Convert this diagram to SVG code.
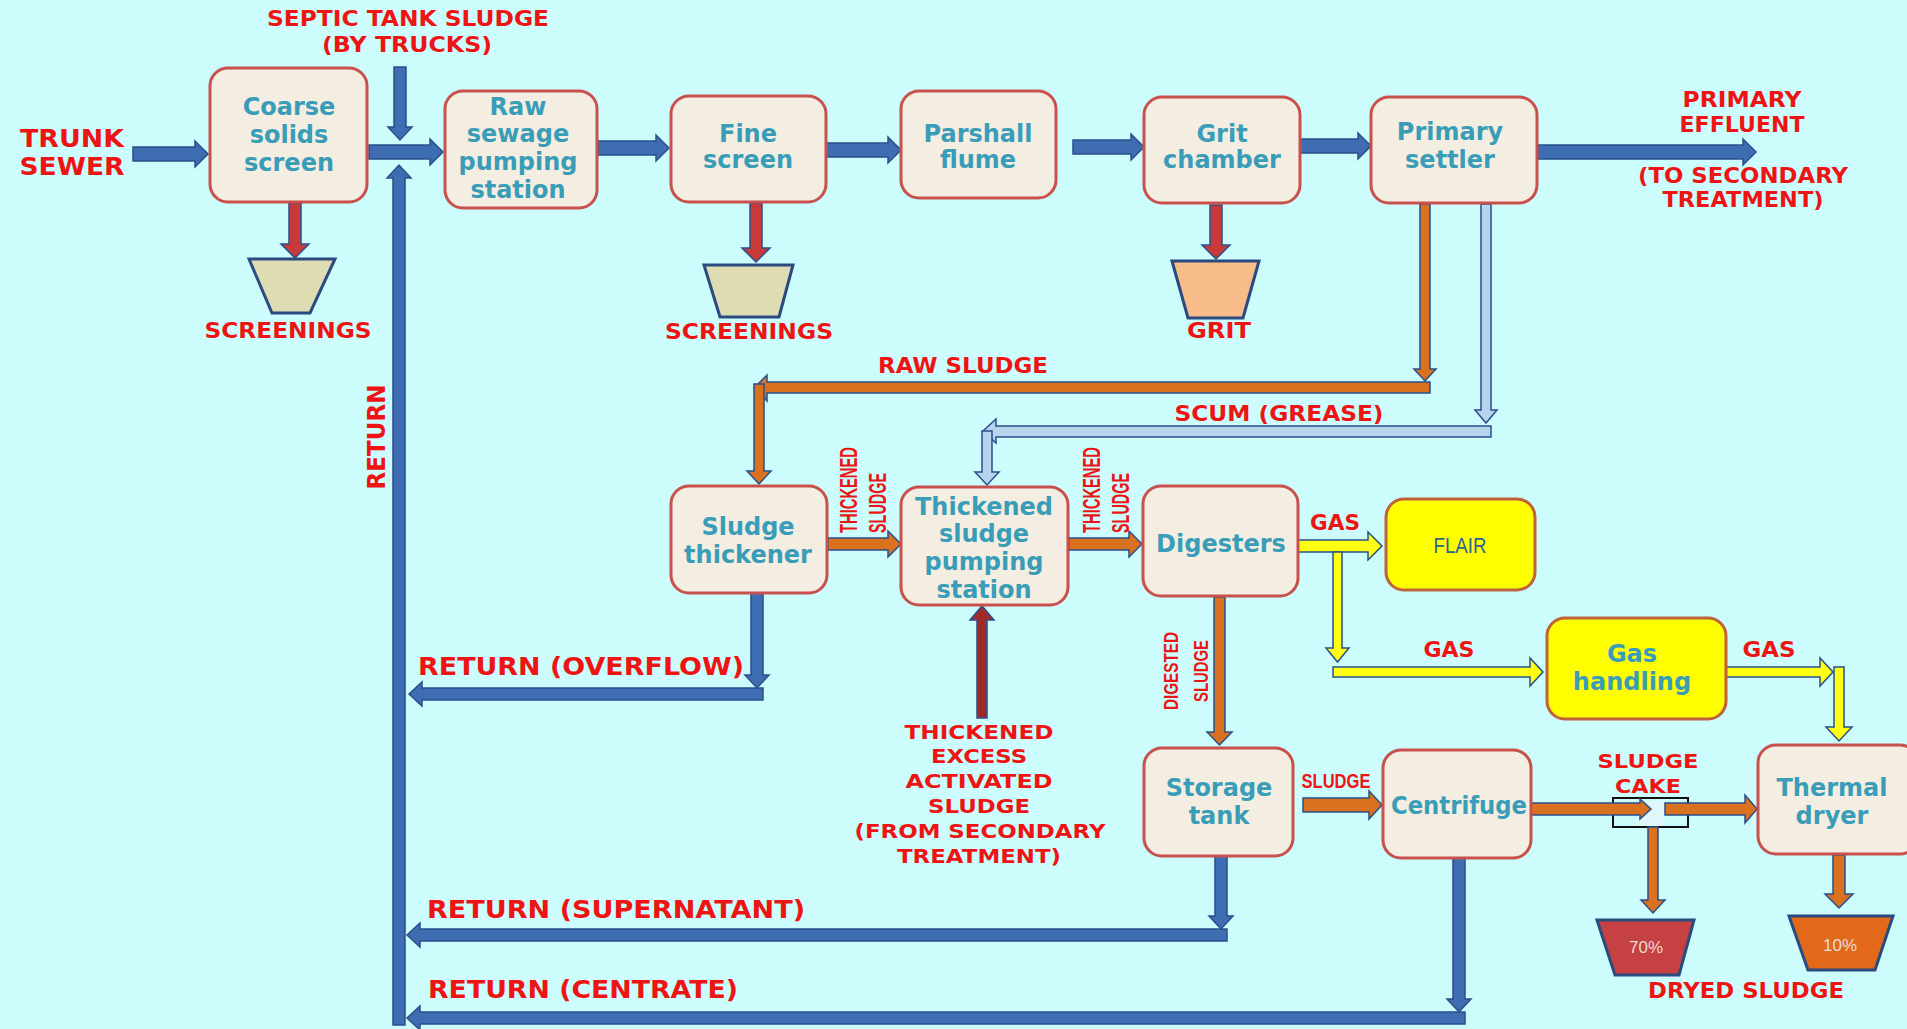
<svg xmlns="http://www.w3.org/2000/svg" width="1907" height="1029" viewBox="0 0 1907 1029">
<style>
.bg{fill:#ccfcfc}
.node rect{fill:#f3ede2;stroke:#c9514d;stroke-width:3}
.node.yel rect{fill:#ffff00;stroke:#c0623a}
.nt{font-family:"DejaVu Sans",Verdana,sans-serif;font-weight:bold;font-size:24px;fill:#3a9db8;text-anchor:middle}
.lbl{font-family:"DejaVu Sans",Verdana,sans-serif;font-weight:bold;fill:#ee1414;text-anchor:middle}
.lbl.st{text-anchor:start}
.cnd{font-family:"Liberation Sans",Arial,sans-serif;font-weight:bold;fill:#ee1414}
.cnd.mid{text-anchor:middle}
.b{fill:#3f6db2;stroke:#2a4f8c;stroke-width:1.5}
.r{fill:#c83a3a;stroke:#2a4f8c;stroke-width:1.5}
.dr{fill:#a02a2a;stroke:#2a4f8c;stroke-width:1.5}
.o{fill:#d9711e;stroke:#2a4f8c;stroke-width:1.5}
.s{fill:#b8d3ec;stroke:#2a4f8c;stroke-width:1.5}
.y{fill:#ffff14;stroke:#2a4f8c;stroke-width:1.5}
.bin{stroke:#2b4a7f;stroke-width:3}
.pct{font-family:"Liberation Sans",Arial,sans-serif;font-size:17px;fill:#eadcd4;text-anchor:middle}
</style>
<rect class="bg" x="0" y="0" width="1907" height="1029"/>

<g id="connectors">
  <path class="b" d="M133,147 H195 V141 L208,154 L195,167 V161 H133 Z"/>
  <path class="b" d="M369,145 H430 V139 L443,152 L430,165 V159 H369 Z"/>
  <path class="b" d="M394,67 H406 V127 H412 L400,140 L388,127 H394 Z"/>
  <path class="b" d="M393,1025 V178 H387 L399,165 L411,178 H405 V1025 Z"/>
  <path class="b" d="M598,141 H656 V135 L669,148 L656,161 V155 H598 Z"/>
  <path class="b" d="M826,143 H888 V137 L901,150 L888,163 V157 H826 Z"/>
  <path class="b" d="M1073,140 H1131 V134 L1144,147 L1131,160 V154 H1073 Z"/>
  <path class="b" d="M1300,139 H1358 V133 L1371,146 L1358,159 V153 H1300 Z"/>
  <path class="b" d="M1538,145 H1743 V139 L1756,152 L1743,165 V159 H1538 Z"/>
  <path class="b" d="M751,593 H763 V675 H769 L757,688 L745,675 H751 Z"/>
  <path class="b" d="M763,688 H422 V682 L409,694 L422,706 V700 H763 Z"/>
  <path class="b" d="M1215,856 H1227 V916 H1233 L1221,929 L1209,916 H1215 Z"/>
  <path class="b" d="M1227,929 H420 V923 L407,935 L420,947 V941 H1227 Z"/>
  <path class="b" d="M1453,858 H1465 V999 H1471 L1459,1012 L1447,999 H1453 Z"/>
  <path class="b" d="M1465,1012 H420 V1006 L407,1018 L420,1030 V1024 H1465 Z"/>
  <path class="r" d="M289,203 H301 V244 H309 L295,258 L281,244 H289 Z"/>
  <path class="r" d="M750,203 H762 V248 H770 L756,262 L742,248 H750 Z"/>
  <path class="r" d="M1210,205 H1222 V245 H1230 L1216,259 L1202,245 H1210 Z"/>
  <path class="o" d="M1420,204 H1430 V369 H1436 L1425,381 L1414,369 H1420 Z"/>
  <path class="o" d="M1430,382 H767 V375 L754,388 L767,401 V393 H1430 Z"/>
  <path class="o" d="M754,384 H764 V471 H771 L759,484 L747,471 H754 Z"/>
  <path class="s" d="M1481,204 H1491 V410 H1497 L1486,423 L1475,410 H1481 Z"/>
  <path class="s" d="M1491,426 H996 V419 L983,431 L996,443 V437 H1491 Z"/>
  <path class="s" d="M982,431 H992 V472 H999 L987,485 L975,472 H982 Z"/>
  <path class="o" d="M828,538 H888 V531 L901,544 L888,557 V550 H828 Z"/>
  <path class="o" d="M1069,538 H1129 V531 L1142,544 L1129,557 V550 H1069 Z"/>
  <path class="dr" d="M977,718 V620 H970 L982,606 L994,620 H987 V718 Z"/>
  <path class="o" d="M1214,597 H1225 V732 H1232 L1219.5,745 L1207,732 H1214 Z"/>
  <path class="y" d="M1297,540 H1368 V532 L1382,546 L1368,560 V552 H1297 Z"/>
  <path class="y" d="M1333,552 H1342 V648 H1349 L1337.5,662 L1326,648 H1333 Z"/>
  <path class="y" d="M1333,667 H1530 V658 L1543,672 L1530,686 V677 H1333 Z"/>
  <path class="y" d="M1726,667 H1820 V658 L1833,672 L1820,686 V677 H1726 Z"/>
  <path class="y" d="M1834,667 H1844 V727 H1852 L1839,741 L1826,727 H1834 Z"/>
  <path class="o" d="M1303,798 H1369 V791 L1382,805 L1369,819 V812 H1303 Z"/>
  <rect x="1613" y="798" width="75" height="29" fill="none" stroke="#111" stroke-width="2"/>
  <rect x="1637" y="801" width="27" height="25" fill="#dff6fa"/>
  <path class="o" d="M1531,803 H1640 V799 L1651,809 L1640,819 V815 H1531 Z"/>
  <path class="o" d="M1665,803 H1745 V795 L1757,809 L1745,823 V815 H1665 Z"/>
  <path class="o" d="M1648,827 H1658 V900 H1665 L1653,913 L1641,900 H1648 Z"/>
  <path class="o" d="M1833,855 H1845 V894 H1853 L1839,908 L1825,894 H1833 Z"/>
</g>

<g id="node-coarse" class="node"><rect x="210" y="68" width="157" height="134" rx="18"/>
  <text class="nt" x="289" y="115">Coarse</text><text class="nt" x="289" y="143">solids</text><text class="nt" x="289" y="171">screen</text></g>
<g id="node-raw-pumping" class="node"><rect x="445" y="91" width="152" height="117" rx="18"/>
  <text class="nt" x="518" y="115">Raw</text><text class="nt" x="518" y="142">sewage</text><text class="nt" x="518" y="170">pumping</text><text class="nt" x="518" y="198">station</text></g>
<g id="node-fine-screen" class="node"><rect x="671" y="96" width="155" height="106" rx="18"/>
  <text class="nt" x="748" y="142">Fine</text><text class="nt" x="748" y="168">screen</text></g>
<g id="node-parshall" class="node"><rect x="901" y="91" width="155" height="107" rx="18"/>
  <text class="nt" x="978" y="142">Parshall</text><text class="nt" x="978" y="168">flume</text></g>
<g id="node-grit" class="node"><rect x="1144" y="97" width="156" height="106" rx="18"/>
  <text class="nt" x="1222" y="142">Grit</text><text class="nt" x="1222" y="168">chamber</text></g>
<g id="node-primary" class="node"><rect x="1371" y="97" width="166" height="106" rx="18"/>
  <text class="nt" x="1450" y="140">Primary</text><text class="nt" x="1450" y="168">settler</text></g>
<g id="node-thickener" class="node"><rect x="671" y="486" width="156" height="107" rx="18"/>
  <text class="nt" x="748" y="535">Sludge</text><text class="nt" x="748" y="563">thickener</text></g>
<g id="node-tsps" class="node"><rect x="901" y="487" width="167" height="118" rx="18"/>
  <text class="nt" x="984" y="515">Thickened</text><text class="nt" x="984" y="542">sludge</text><text class="nt" x="984" y="570">pumping</text><text class="nt" x="984" y="598">station</text></g>
<g id="node-digesters" class="node"><rect x="1143" y="486" width="155" height="110" rx="18"/>
  <text class="nt" x="1221" y="552">Digesters</text></g>
<g id="node-flair" class="node yel"><rect x="1386" y="499" width="149" height="91" rx="18"/>
  <text x="1460" y="553" text-anchor="middle" font-family="'Liberation Sans',Arial,sans-serif" font-size="22" fill="#2a6590" textLength="53" lengthAdjust="spacingAndGlyphs">FLAIR</text></g>
<g id="node-gas-handling" class="node yel"><rect x="1547" y="618" width="179" height="101" rx="18"/>
  <text class="nt" x="1632" y="662">Gas</text><text class="nt" x="1632" y="690">handling</text></g>
<g id="node-storage" class="node"><rect x="1144" y="748" width="149" height="108" rx="18"/>
  <text class="nt" x="1219" y="796">Storage</text><text class="nt" x="1219" y="824">tank</text></g>
<g id="node-centrifuge" class="node"><rect x="1383" y="750" width="148" height="108" rx="18"/>
  <text class="nt" x="1459" y="814" textLength="136" lengthAdjust="spacingAndGlyphs">Centrifuge</text></g>
<g id="node-dryer" class="node"><rect x="1758" y="745" width="160" height="109" rx="18"/>
  <text class="nt" x="1832" y="796">Thermal</text><text class="nt" x="1832" y="824">dryer</text></g>

<g id="bin-screenings-1"><polygon class="bin" fill="#dedcb2" points="249,259 335,259 310,313 272,313"/></g>
<g id="bin-screenings-2"><polygon class="bin" fill="#dedcb2" points="704,265 793,265 779,317 720,317"/></g>
<g id="bin-grit"><polygon class="bin" fill="#f8bb8a" points="1172,261 1259,261 1243,318 1188,318"/></g>
<g id="bin-70"><polygon class="bin" fill="#c64242" points="1597,920 1694,920 1679,975 1615,975"/><text class="pct" x="1646" y="953">70%</text></g>
<g id="bin-10"><polygon class="bin" fill="#e2691a" points="1789,916 1893,916 1875,970 1808,970"/><text class="pct" x="1840" y="951">10%</text></g>

<g id="labels">
  <text class="lbl" font-size="22" x="408" y="26" textLength="282" lengthAdjust="spacingAndGlyphs">SEPTIC TANK SLUDGE</text>
  <text class="lbl" font-size="22" x="407" y="52" textLength="170" lengthAdjust="spacingAndGlyphs">(BY TRUCKS)</text>
  <text class="lbl" font-size="25" x="72" y="147" textLength="104" lengthAdjust="spacingAndGlyphs">TRUNK</text>
  <text class="lbl" font-size="25" x="72" y="175" textLength="105" lengthAdjust="spacingAndGlyphs">SEWER</text>
  <text class="lbl" font-size="21" x="288" y="338" textLength="167" lengthAdjust="spacingAndGlyphs">SCREENINGS</text>
  <text class="lbl" font-size="21" x="749" y="339" textLength="168" lengthAdjust="spacingAndGlyphs">SCREENINGS</text>
  <text class="lbl" font-size="21" x="1219" y="338" textLength="64" lengthAdjust="spacingAndGlyphs">GRIT</text>
  <text class="lbl" font-size="21" x="1742" y="107" textLength="119" lengthAdjust="spacingAndGlyphs">PRIMARY</text>
  <text class="lbl" font-size="21" x="1742" y="132" textLength="125" lengthAdjust="spacingAndGlyphs">EFFLUENT</text>
  <text class="lbl" font-size="21" x="1743" y="183" textLength="210" lengthAdjust="spacingAndGlyphs">(TO SECONDARY</text>
  <text class="lbl" font-size="21" x="1743" y="207" textLength="161" lengthAdjust="spacingAndGlyphs">TREATMENT)</text>
  <text class="lbl" font-size="21" x="963" y="373" textLength="170" lengthAdjust="spacingAndGlyphs">RAW SLUDGE</text>
  <text class="lbl" font-size="21" x="1279" y="421" textLength="209" lengthAdjust="spacingAndGlyphs">SCUM (GREASE)</text>
  <text class="lbl" font-size="24" transform="translate(385,437) rotate(-90)" textLength="105" lengthAdjust="spacingAndGlyphs">RETURN</text>
  <text class="cnd" font-size="23" transform="translate(857,533) rotate(-90)" textLength="86" lengthAdjust="spacingAndGlyphs">THICKENED</text>
  <text class="cnd" font-size="23" transform="translate(886,533) rotate(-90)" textLength="60" lengthAdjust="spacingAndGlyphs">SLUDGE</text>
  <text class="cnd" font-size="23" transform="translate(1100,533) rotate(-90)" textLength="86" lengthAdjust="spacingAndGlyphs">THICKENED</text>
  <text class="cnd" font-size="23" transform="translate(1129,533) rotate(-90)" textLength="60" lengthAdjust="spacingAndGlyphs">SLUDGE</text>
  <text class="cnd mid" font-size="21" transform="translate(1178,671) rotate(-90)" textLength="78" lengthAdjust="spacingAndGlyphs">DIGESTED</text>
  <text class="cnd mid" font-size="21" transform="translate(1208,671) rotate(-90)" textLength="62" lengthAdjust="spacingAndGlyphs">SLUDGE</text>
  <text class="lbl" font-size="21" x="1335" y="530" textLength="50" lengthAdjust="spacingAndGlyphs">GAS</text>
  <text class="lbl" font-size="21" x="1449" y="657" textLength="51" lengthAdjust="spacingAndGlyphs">GAS</text>
  <text class="lbl" font-size="21" x="1769" y="657" textLength="53" lengthAdjust="spacingAndGlyphs">GAS</text>
  <text class="cnd mid" font-size="20" x="1336" y="788" textLength="69" lengthAdjust="spacingAndGlyphs">SLUDGE</text>
  <text class="lbl" font-size="20" x="1648" y="768" textLength="101" lengthAdjust="spacingAndGlyphs">SLUDGE</text>
  <text class="lbl" font-size="20" x="1648" y="793" textLength="66" lengthAdjust="spacingAndGlyphs">CAKE</text>
  <text class="lbl" font-size="21" x="1746" y="998" textLength="196" lengthAdjust="spacingAndGlyphs">DRYED SLUDGE</text>
  <text class="lbl st" font-size="24" x="418" y="675" textLength="326" lengthAdjust="spacingAndGlyphs">RETURN (OVERFLOW)</text>
  <text class="lbl st" font-size="24" x="427" y="918" textLength="378" lengthAdjust="spacingAndGlyphs">RETURN (SUPERNATANT)</text>
  <text class="lbl st" font-size="24" x="428" y="998" textLength="310" lengthAdjust="spacingAndGlyphs">RETURN (CENTRATE)</text>
  <text class="lbl" font-size="20" x="979" y="739" textLength="149" lengthAdjust="spacingAndGlyphs">THICKENED</text>
  <text class="lbl" font-size="20" x="979" y="763" textLength="96" lengthAdjust="spacingAndGlyphs">EXCESS</text>
  <text class="lbl" font-size="20" x="979" y="788" textLength="147" lengthAdjust="spacingAndGlyphs">ACTIVATED</text>
  <text class="lbl" font-size="20" x="979" y="813" textLength="102" lengthAdjust="spacingAndGlyphs">SLUDGE</text>
  <text class="lbl" font-size="20" x="980" y="838" textLength="251" lengthAdjust="spacingAndGlyphs">(FROM SECONDARY</text>
  <text class="lbl" font-size="20" x="979" y="863" textLength="164" lengthAdjust="spacingAndGlyphs">TREATMENT)</text>
</g>
</svg>
